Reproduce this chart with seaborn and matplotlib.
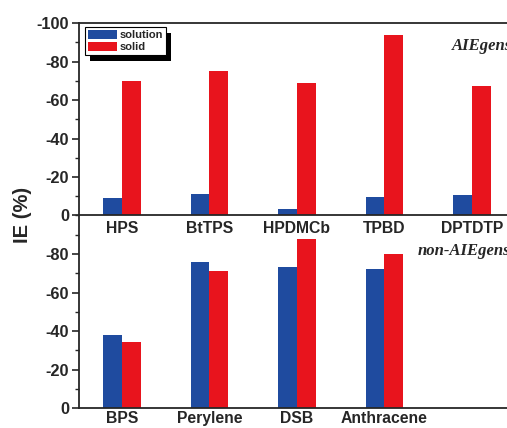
import pandas as pd
import numpy as np
import seaborn as sns
import matplotlib.pyplot as plt
from matplotlib.patches import Patch, Rectangle
from matplotlib.ticker import MultipleLocator
from matplotlib.transforms import IdentityTransform

# dados (IE em %, valores negativos)
aie_names = ['HPS', 'BtTPS', 'HPDMCb', 'TPBD', 'DPTDTP']
aie_solution = [-9, -11, -3.5, -9.5, -10.5]
aie_solid = [-70, -75, -69, -94, -67.5]

non_names = ['BPS', 'Perylene', 'DSB', 'Anthracene']
non_solution = [-38, -76, -73, -72]
non_solid = [-34.5, -71, -88, -80]

states = ['solution', 'solid']
cores = ['#1F4B9F', '#E8141D']


def monta_df(nomes, sol, solid):
    return pd.DataFrame({
        'nome': nomes * 2,
        'estado': ['solution'] * len(nomes) + ['solid'] * len(nomes),
        'IE': sol + solid,
    })


sns.set_style('ticks')
plt.rcParams['font.family'] = ['Liberation Sans', 'DejaVu Sans']
plt.rcParams['axes.unicode_minus'] = False

fig = plt.figure(figsize=(5.07, 4.28), dpi=100)
left = 79 / 507
ax1 = fig.add_axes([left, 0.4965, 1 - left, 0.946 - 0.4965])
ax2 = fig.add_axes([left, 0.0467, 1 - left, 0.4965 - 0.0467])
# painel de cima por cima, para os rótulos do eixo x não sumirem
ax1.set_zorder(2)
ax1.patch.set_alpha(0)
ax2.set_zorder(1)

for ax, nomes, sol, solid in [(ax1, aie_names, aie_solution, aie_solid),
                              (ax2, non_names, non_solution, non_solid)]:
    df = monta_df(nomes, sol, solid)
    sns.barplot(data=df, x='nome', y='IE', hue='estado', hue_order=states,
                palette=cores, width=0.43, saturation=1, ax=ax, legend=False,
                linewidth=0, edgecolor='none')
    ax.set_xlim(-0.49, 4.4)
    ax.set_ylim(0, -100)
    ax.set_xlabel('')
    ax.set_ylabel('')
    ax.yaxis.set_minor_locator(MultipleLocator(10))
    ax.tick_params(axis='x', length=0, pad=4, labelsize=11.3)
    ax.tick_params(axis='y', which='major', length=5, width=1.2, pad=2, labelsize=11.8)
    ax.tick_params(axis='y', which='minor', length=3, width=1.0)
    ax.spines['right'].set_visible(False)
    for s in ['left', 'bottom', 'top']:
        ax.spines[s].set_linewidth(1.3)

ax2.tick_params(axis='x', pad=2.5)
ax1.set_yticks([0, -20, -40, -60, -80, -100])
ax2.set_yticks([0, -20, -40, -60, -80])
ax2.spines['top'].set_visible(False)
for ax in (ax1, ax2):
    for lab in ax.get_xticklabels() + ax.get_yticklabels():
        lab.set_fontweight('bold')

ax1.text(0.871, 0.88, 'AIEgens', transform=ax1.transAxes, ha='left', va='center',
         fontsize=12, fontweight='bold', fontstyle='italic', family='Liberation Serif')
ax2.text(0.792, 0.814, 'non-AIEgens', transform=ax2.transAxes, ha='left', va='center',
         fontsize=12, fontweight='bold', fontstyle='italic', family='Liberation Serif')

fig.text(23 / 507, 1 - 215 / 428, 'IE (%)', rotation=90, ha='center', va='center',
         fontsize=14.5, fontweight='bold')

handles = [Patch(facecolor=c, edgecolor='none') for c in cores]
leg = ax1.legend(handles, states, loc='upper left', bbox_to_anchor=(0.014, 0.979),
                 borderaxespad=0, frameon=True, fancybox=False, edgecolor='black',
                 prop={'weight': 'bold', 'size': 8}, handlelength=2.6, handleheight=0.9,
                 handletextpad=0.3, labelspacing=0.15, borderpad=0.25)
leg.get_frame().set_linewidth(0.8)
leg.get_frame().set_alpha(1)
leg.set_zorder(6)

# sombra preta deslocada atrás da legenda
fig.canvas.draw()
bb = leg.get_window_extent()
sombra = Rectangle((bb.x0 + 5, bb.y0 - 6), bb.width, bb.height, facecolor='black',
                   edgecolor='none', transform=IdentityTransform(), zorder=5, clip_on=False)
ax1.add_artist(sombra)

fig.savefig('out.png', dpi=100)
